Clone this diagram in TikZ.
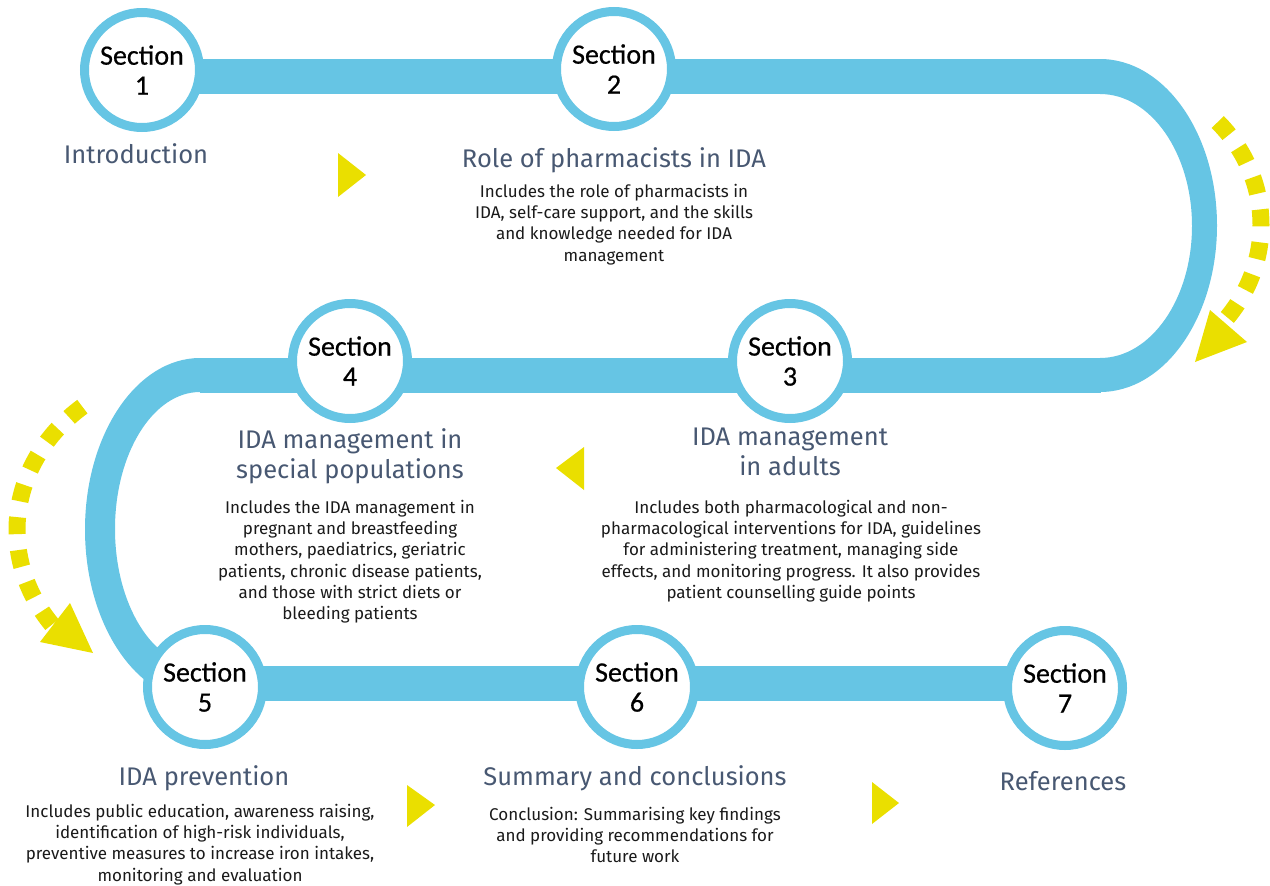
\documentclass[tikz,border=0pt]{standalone}
\usepackage{fontspec}
\setmainfont{Fira Sans}
\newfontfamily\secfont[FakeBold=0.6]{Carlito}
\pgfdeclarelayer{background}
\pgfsetlayers{background,main}
\definecolor{trackblue}{RGB}{102,197,228}
\definecolor{ayellow}{RGB}{234,223,0}
\definecolor{titleslate}{RGB}{72,88,114}
\definecolor{bodyink}{RGB}{26,26,26}
\begin{document}
\begin{tikzpicture}[x=1pt,y=-1pt,
  track/.style={draw=trackblue,line width=35pt},
  turn/.style={fill=trackblue},
  secnode/.style={circle,draw=trackblue,line width=9pt,fill=white,minimum size=115pt,inner sep=0pt,align=center,font=\secfont\fontsize{28}{30}\selectfont,text=black},
  title/.style={align=center,text=titleslate,font=\fontsize{25.5}{30}\selectfont,inner sep=0pt},
  body/.style={align=center,text=bodyink,font=\fontsize{17}{21.2}\selectfont,inner sep=0pt},
  play/.style={fill=ayellow},
  ydash/.style={draw=ayellow,line width=17pt,dash pattern=on 17pt off 16pt},
  yhead/.style={fill=ayellow}
]
\useasboundingbox (0,0) rectangle (1270,886);

% section nodes
\node[secnode] (s1) at (142,70) {Section\\1};
\node[secnode] (s2) at (614,69) {Section\\2};
\node[secnode] (s3) at (790,361) {Section\\3};
\node[secnode] (s4) at (350,361) {Section\\4};
\node[secnode] (s5) at (205,687) {Section\\5};
\node[secnode] (s6) at (637,687) {Section\\6};
\node[secnode] (s7) at (1065,688) {Section\\7};

% track
\coordinate (tR1) at (1100.5,76.5);
\coordinate (tR2) at (1100.5,375);
\coordinate (tL1) at (199.5,375);
\coordinate (tL2) at (199.5,683.5);
\begin{pgfonlayer}{background}
\draw[track] (s1.center |- tR1) -- (s2.center |- tR1) -- (tR1);
\fill[turn] (1100,59) arc[start angle=-90,end angle=90,x radius=117,y radius=166.5]
  -- (1100,358) arc[start angle=90,end angle=-90,x radius=92,y radius=132] -- cycle;
\draw[track] (tR2) -- (s3.center |- tR2) -- (s4.center |- tR2) -- (tL1);
\fill[turn] (200,358) arc[start angle=270,end angle=90,x radius=115,y radius=171.5]
  -- (200,666) arc[start angle=90,end angle=270,x radius=85,y radius=137] -- cycle;
\draw[track] (tL2) -- (s5.center |- tL2) -- (s6.center |- tL2) -- (s7.center |- tL2);
\end{pgfonlayer}

% titles and descriptions
\node[title,anchor=base] (t1) at (136,163) {Introduction};
\node[title,anchor=base] (t2) at (614,167) {Role of pharmacists in IDA};
\node[body,anchor=north] (b2) at (614,184) {Includes the role of pharmacists in\\IDA, self-care support, and the skills\\and knowledge needed for IDA\\management};
\node[title,anchor=north] (t3) at (790,428) {IDA management\\in adults};
\node[body,anchor=north] (b3) at (791,500) {Includes both pharmacological and non-\\pharmacological interventions for IDA, guidelines\\for administering treatment, managing side\\effects, and monitoring progress. It also provides\\patient counselling guide points};
\node[title,anchor=north] (t4) at (350,428) {IDA management in\\special populations};
\node[body,anchor=north] (b4) at (350,500) {Includes the IDA management in\\pregnant and breastfeeding\\mothers, paediatrics, geriatric\\patients, chronic disease patients,\\and those with strict diets or\\bleeding patients};
\node[title,anchor=base] (t5) at (204,785) {IDA prevention};
\node[body,anchor=north] (b5) at (200,804) {Includes public education, awareness raising,\\identification of high-risk individuals,\\preventive measures to increase iron intakes,\\monitoring and evaluation};
\node[title,anchor=base] (t6) at (635,785) {Summary and conclusions};
\node[body,anchor=north] (b6) at (635,807) {Conclusion: Summarising key findings\\and providing recommendations for\\future work};
\node[title,anchor=base] (t7) at (1063,790) {References};

% small play triangles
\fill[play] (338,153) -- (338,197) -- (366,175) -- cycle;
\fill[play] (584,447) -- (584,490) -- (556,468) -- cycle;
\fill[play] (407,785) -- (407,827) -- (435,805) -- cycle;
\fill[play] (872,782) -- (872,824) -- (899,803) -- cycle;

% dashed turn arrows
\draw[ydash] (1100,225) ++(-43:161 and 151) arc[start angle=-43,end angle=40,x radius=161,y radius=151];
\fill[yhead] (1195,362) -- (1210,310) -- (1247,342) -- cycle;
\draw[ydash] (200,530) ++(230:183 and 161) arc[start angle=230,end angle=144,x radius=183,y radius=161];
\fill[yhead] (93,653) -- (40,642) -- (70,603) -- cycle;
\end{tikzpicture}
\end{document}
